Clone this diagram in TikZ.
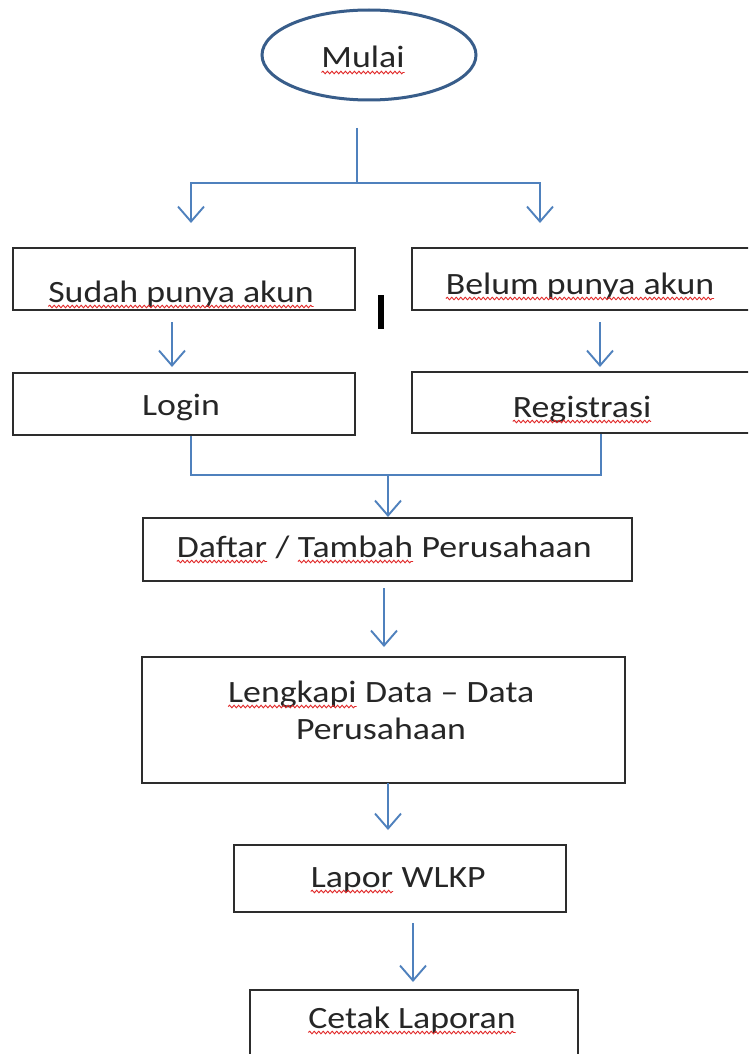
\documentclass[tikz,border=0pt]{standalone}
\usepackage{fontspec}
\setmainfont{Carlito}[FakeStretch=1.155]
\usetikzlibrary{arrows.meta,decorations.pathmorphing,shapes.geometric}
\definecolor{conncol}{RGB}{79,129,189}
\definecolor{ellcol}{RGB}{56,93,138}
\definecolor{boxcol}{RGB}{45,45,45}
\definecolor{txtcol}{RGB}{38,38,38}
\definecolor{squigcol}{RGB}{225,40,40}
\tikzset{
  conn/.style={draw=conncol, line width=1.9pt},
  arr/.style={conn, -{Straight Barb[length=15pt,width=26pt,line width=1.9pt]}},
  box/.style={draw=boxcol, line width=2.4pt, rectangle, inner sep=0pt},
  txt/.style={text=txtcol, font=\fontsize{31}{37}\selectfont, inner sep=0pt, anchor=base},
  squig/.style={draw=squigcol, line width=0.9pt, decorate, decoration={snake, amplitude=1.3pt, segment length=4.5pt}},
}
\newcommand\sq[1]{\tikz[baseline=(sqw.base)]{\node[inner sep=0pt,outer sep=0pt,draw=none,fill=none,anchor=base,minimum size=0pt,shape=rectangle,text=txtcol] (sqw) at (0,0) {#1};\draw[squig] ([yshift=-4.5pt]sqw.base west) -- ([yshift=-4.5pt]sqw.base east);}}
\begin{document}
\begin{tikzpicture}[x=1pt,y=-1pt]
\useasboundingbox (0,0) rectangle (748,1054);
\clip (0,0) rectangle (748,1054);
\fill[white] (0,0) rectangle (748,1054);

% start
\node[draw=ellcol, line width=3pt, ellipse, minimum width=214pt, minimum height=90pt, inner sep=0pt] (mulai) at (369,55) {};
\node[txt] (tmulai) at (363,68) {\sq{Mulai}};

% boxes
\node[box, minimum width=342pt, minimum height=62pt] (sudah) at (184,279) {};
\node[txt] (tsudah) at (181,302) {\sq{Sudah punya akun}};
\node[box, minimum width=340pt, minimum height=62pt] (belum) at (582,279) {};
\node[txt] (tbelum) at (580,294) {\sq{Belum punya akun}};
\node[box, minimum width=342pt, minimum height=62pt] (login) at (184,404) {};
\node[txt] (tlogin) at (181,415) {Login};
\node[box, minimum width=340pt, minimum height=61pt] (reg) at (582,402.5) {};
\node[txt] (treg) at (582,417) {\sq{Registrasi}};
\node[box, minimum width=489pt, minimum height=63pt] (daftar) at (387.5,549.5) {};
\node[txt] (tdaftar) at (384,557) {\sq{Daftar} / \sq{Tambah} Perusahaan};
\node[box, minimum width=483pt, minimum height=126pt] (lengkapi) at (383.5,720) {};
\node[txt] (tleng1) at (381,702) {\sq{Lengkapi} Data – Data};
\node[txt] (tleng2) at (381,739) {Perusahaan};
\node[box, minimum width=332pt, minimum height=67pt] (lapor) at (400,878.5) {};
\node[txt] (tlapor) at (398,887) {\sq{Lapor} WLKP};
\node[box, minimum width=328pt, minimum height=70pt] (cetak) at (414,1025) {};
\node[txt] (tcetak) at (412,1028) {\sq{Cetak Laporan}};

% cursor mark
\node[fill=black, minimum width=6pt, minimum height=34pt, inner sep=0pt] (cursor) at (381,312) {};

% connectors
\coordinate (t0) at (357,128);
\coordinate (j0) at (357,183);
\coordinate (al) at (191,223);
\coordinate (ar) at (540,223);
\draw[conn] (t0) -- (j0);
\draw[arr] (j0) -| (al);
\draw[arr] (j0) -| (ar);

\coordinate (s1o) at (172,322);
\coordinate (l1i) at (172,367);
\draw[arr] (s1o) -- (l1i);
\coordinate (b1o) at (600,322);
\coordinate (r1i) at (600,367);
\draw[arr] (b1o) -- (r1i);

\coordinate (ml) at (191,475);
\coordinate (mr) at (601,475);
\coordinate (mj) at (388,475);
\coordinate (da) at (388,517);
\draw[conn] (login.south -| ml) -- (ml) -- (mr) -- (reg.south -| mr);
\draw[arr] (mj) -- (da);

\coordinate (d0) at (384,588);
\coordinate (d1) at (384,647);
\draw[arr] (d0) -- (d1);
\coordinate (e0) at (388,783);
\coordinate (e1) at (388,830);
\draw[arr] (e0) -- (e1);
\coordinate (f0) at (413,923);
\coordinate (f1) at (413,982);
\draw[arr] (f0) -- (f1);
\end{tikzpicture}
\end{document}
